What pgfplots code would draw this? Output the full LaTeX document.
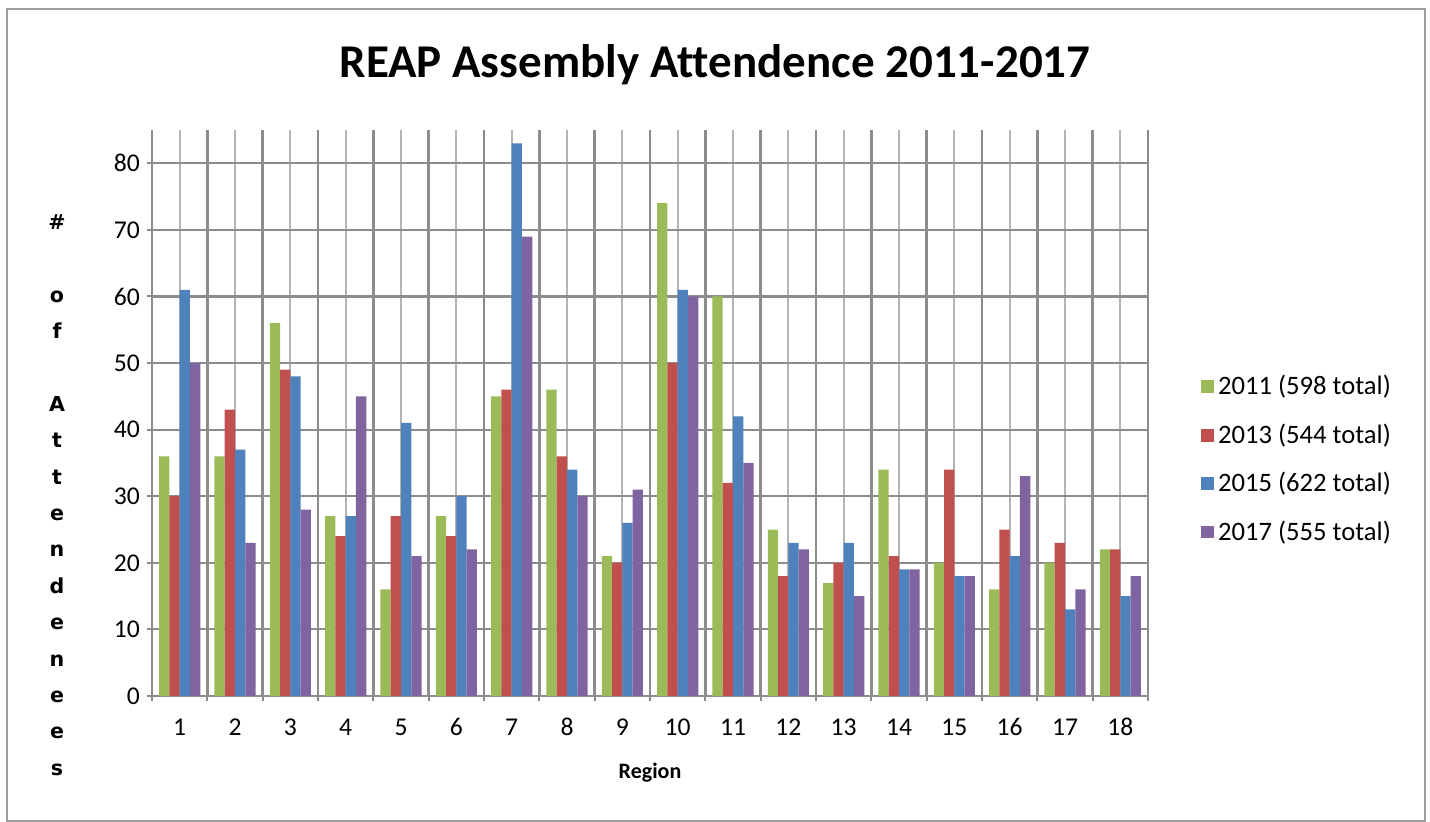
\documentclass[border=0pt]{standalone}
\usepackage{fontspec}
\setmainfont{Carlito}[Ligatures=NoCommon]
\newfontfamily\labfont{DejaVu Sans}
\usepackage{pgfplots}
\pgfplotsset{compat=1.18}

\definecolor{c2011}{HTML}{9BBB59}
\definecolor{c2013}{HTML}{C0504D}
\definecolor{c2015}{HTML}{4F81BD}
\definecolor{c2017}{HTML}{8064A2}
\definecolor{darkgrid}{HTML}{8C8C8C}
\definecolor{lightgrid}{HTML}{B4B4B4}

\begin{document}
\begin{tikzpicture}
% page frame (1 px = 0.5 pt)
\path (0,0) rectangle (715pt,411pt);
\draw[color=gray!75, line width=1pt] (3.5pt,0.5pt) rectangle (712.5pt,406.5pt);

\node[font=\fontsize{23.5}{28}\selectfont\bfseries] at (357.5pt,378.5pt)
  {REAP Assembly Attendence 2011-2017};

% stacked y label, one letter per line
\node[font=\labfont\bfseries\fontsize{10.3}{18.2}\selectfont, align=center] at (28.5pt,163.5pt)
  {\#\\ \strut\\ o\\ f\\ \strut\\ A\\ t\\ t\\ e\\ n\\ d\\ e\\ n\\ e\\ e\\ s};

\begin{axis}[
  at={(76pt,63pt)}, anchor=south west,
  width=498pt, height=283pt, scale only axis,
  xmin=0.5, xmax=18.5, ymin=0, ymax=85,
  ybar=0pt, bar width=0.186,
  xtick={1,...,18},
  minor xtick={0.5,1.5,...,18.5},
  ytick={0,10,...,80},
  axis lines*=left,
  axis line style={-, draw=darkgrid, line width=1.2pt},
  tick align=outside,
  major tick length=2.5pt, minor tick length=2.5pt,
  every major x tick/.append style={draw=none},
  every minor x tick/.append style={draw=darkgrid, line width=1pt},
  ytick style={draw=darkgrid, line width=1pt},
  xmajorgrids, xminorgrids, ymajorgrids,
  major x grid style={color=lightgrid, line width=1pt},
  minor x grid style={color=darkgrid, line width=1.2pt},
  major y grid style={color=darkgrid, line width=1.1pt},
  /pgf/number format/assume math mode=true,
  ticklabel style={font=\fontsize{12.8}{15}\selectfont},
  xticklabel style={yshift=-5pt, text height=8.5pt, text depth=0pt},
  xlabel={Region},
  xlabel style={font=\fontsize{11}{13}\selectfont\bfseries,
    at={(axis description cs:0.5,-0.136)}, anchor=center},
  legend cell align=left,
  legend style={at={(axis description cs:1.053,0.418)}, anchor=west,
    draw=none, fill=none, font=\fontsize{13.3}{15}\selectfont,
    row sep=9pt, inner sep=0pt},
  legend image code/.code={\fill[#1] (0pt,-3.2pt) rectangle (6.5pt,3.2pt);},
]

\addplot[fill=c2011, draw=none] coordinates {
(1,36)(2,36)(3,56)(4,27)(5,16)(6,27)(7,45)(8,46)(9,21)
(10,74)(11,60)(12,25)(13,17)(14,34)(15,20)(16,16)(17,20)(18,22)};
\addlegendentry{2011 (598 total)}

\addplot[fill=c2013, draw=none] coordinates {
(1,30)(2,43)(3,49)(4,24)(5,27)(6,24)(7,46)(8,36)(9,20)
(10,50)(11,32)(12,18)(13,20)(14,21)(15,34)(16,25)(17,23)(18,22)};
\addlegendentry{2013 (544 total)}

\addplot[fill=c2015, draw=none] coordinates {
(1,61)(2,37)(3,48)(4,27)(5,41)(6,30)(7,83)(8,34)(9,26)
(10,61)(11,42)(12,23)(13,23)(14,19)(15,18)(16,21)(17,13)(18,15)};
\addlegendentry{2015 (622 total)}

\addplot[fill=c2017, draw=none] coordinates {
(1,50)(2,23)(3,28)(4,45)(5,21)(6,22)(7,69)(8,30)(9,31)
(10,60)(11,35)(12,22)(13,15)(14,19)(15,18)(16,33)(17,16)(18,18)};
\addlegendentry{2017 (555 total)}

\end{axis}
\end{tikzpicture}
\end{document}
